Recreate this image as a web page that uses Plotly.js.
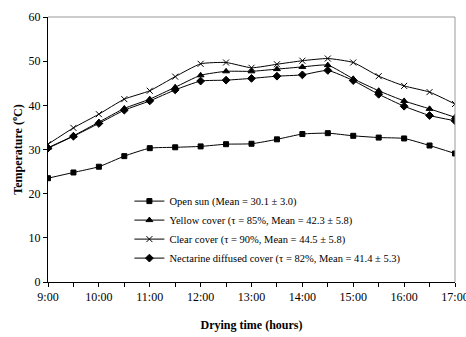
<!DOCTYPE html>
<html>
<head>
<meta charset="utf-8">
<script src="https://cdn.plot.ly/plotly-3.0.1.min.js"></script>
<style>html,body{margin:0;padding:0;background:#fff;}#chart{width:466px;height:337px;}</style>
</head>
<body>
<div id="chart"></div>
<script>
// Time of day in hours (every 30 min)
const hours = [9, 9.5, 10, 10.5, 11, 11.5, 12, 12.5, 13, 13.5, 14, 14.5, 15, 15.5, 16, 16.5, 17];
const tickLabels = ['9:00', '', '10:00', '', '11:00', '', '12:00', '', '13:00', '', '14:00', '', '15:00', '', '16:00', '', '17:00'];

const openSun   = [23.5, 24.8, 26.1, 28.5, 30.3, 30.5, 30.7, 31.2, 31.3, 32.3, 33.5, 33.7, 33.1, 32.7, 32.5, 30.9, 29.1];
const yellow    = [30.4, 33.1, 36.2, 39.3, 41.4, 44.1, 46.8, 47.7, 47.7, 48.2, 48.7, 49.1, 46.0, 43.3, 41.0, 39.2, 37.3];
const clear     = [31.2, 34.9, 38.0, 41.4, 43.3, 46.5, 49.4, 49.7, 48.5, 49.3, 50.1, 50.6, 49.7, 46.6, 44.4, 43.0, 40.3];
const nectarine = [30.3, 33.0, 35.9, 38.9, 41.0, 43.5, 45.5, 45.7, 46.1, 46.6, 46.9, 47.9, 45.6, 42.5, 39.8, 37.7, 36.5];

const names = [
  'Open sun (Mean = 30.1 ± 3.0)',
  'Yellow cover (τ = 85%, Mean = 42.3 ± 5.8)',
  'Clear cover (τ = 90%, Mean = 44.5 ± 5.8)',
  'Nectarine diffused cover (τ = 82%, Mean = 41.4 ± 5.3)'
];
const series = [openSun, yellow, clear, nectarine];
const symbols = ['square', 'triangle-up', 'x-thin-open', 'diamond'];
const sizes = [5, 6, 6, 6];

const FONT = 'Liberation Serif, Times New Roman, serif';

const traces = series.map((s, i) => ({
  x: hours, y: s, name: names[i], type: 'scatter', mode: 'lines+markers',
  line: {color: '#000', width: 1, shape: 'spline', smoothing: 0.5},
  marker: {symbol: symbols[i], size: sizes[i], color: '#000', line: {color: '#000', width: 1}}
}));

const layout = {
  width: 466, height: 337,
  margin: {l: 48, r: 11, t: 17, b: 55},
  paper_bgcolor: '#fff', plot_bgcolor: '#fff',
  font: {family: FONT, color: '#000', size: 12},
  showlegend: true,
  legend: {x: 0.2, y: 0.36, xanchor: 'left', yanchor: 'top', bgcolor: 'rgba(0,0,0,0)',
           font: {size: 10.5, family: FONT}, itemwidth: 30},
  xaxis: {
    range: [9, 17], tickvals: hours, ticktext: tickLabels, ticklabeloverflow: 'allow',
    ticks: 'outside', ticklen: 4, tickcolor: '#000', showgrid: false, zeroline: false,
    showline: true, linecolor: '#000', linewidth: 1,
    title: {text: '<b>Drying time (hours)</b>', font: {size: 12, family: FONT}, standoff: 17},
    tickfont: {size: 12, family: FONT}
  },
  yaxis: {
    range: [0, 60], dtick: 10,
    ticks: 'outside', ticklen: 4, tickcolor: '#000', showgrid: false, zeroline: false,
    showline: true, linecolor: '#000', linewidth: 1,
    title: {text: '<b>Temperature (<sup>o</sup>C)</b>', font: {size: 12, family: FONT}, standoff: 3},
    tickfont: {size: 12, family: FONT}
  },
  shapes: [
    {type: 'line', xref: 'paper', yref: 'paper', x0: 0, x1: 1, y0: 1, y1: 1, line: {color: '#999', width: 1}},
    {type: 'line', xref: 'paper', yref: 'paper', x0: 1, x1: 1, y0: 0, y1: 1, line: {color: '#999', width: 1}}
  ]
};

Plotly.newPlot('chart', traces, layout, {displayModeBar: false, staticPlot: true});
</script>
</body>
</html>
